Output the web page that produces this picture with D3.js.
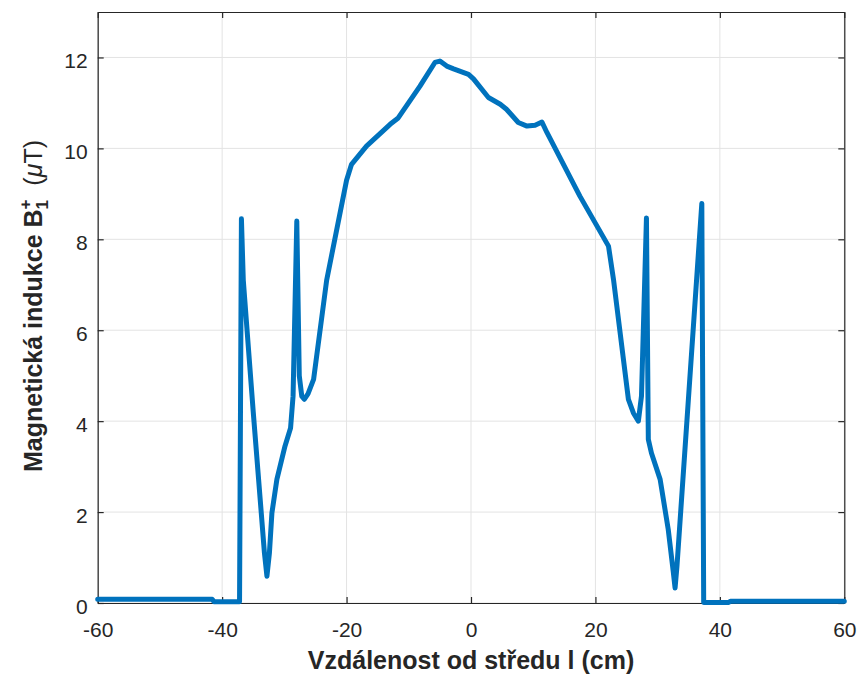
<!DOCTYPE html>
<html>
<head>
<meta charset="utf-8">
<script src="https://cdn.jsdelivr.net/npm/d3@7"></script>
<style>
  body { margin: 0; background: #fff; }
  svg { display: block; font-family: "Liberation Sans", Arial, Helvetica, sans-serif; }
</style>
</head>
<body>
<div id="chart"></div>
<script>
// Data
let distance = [-60, -41.6, -41.3, -37.2, -36.9, -36.6, -35.0, -33.2, -32.8, -32.4, -32.0, -31.2, -29.9, -29.0, -28.6,
    -28.0, -27.6, -27.2, -26.8, -26.2, -25.3, -23.2, -20.0, -19.2, -16.8, -13.0, -11.7, -8.2, -5.8, -5.0, -3.9,
    -2.8, -0.4, 0.4, 2.8, 4.7, 5.7, 7.6, 9.0, 10.3, 11.4, 12.2, 17.5, 22.1, 22.9, 25.3, 26.1,
    26.9, 27.4, 28.2, 28.5, 29.0, 30.4, 31.7, 32.5, 32.8, 33.1, 37.1, 37.4, 41.4, 41.7, 60]
let induction = [0.08, 0.08, 0.03, 0.03, 8.45, 7.1, 4.2, 1.1, 0.59, 1.1, 1.98, 2.72, 3.45, 3.85, 4.55,
    8.4, 5.0, 4.55, 4.48, 4.6, 4.92, 7.1, 9.3, 9.65, 10.05, 10.53, 10.67, 11.37, 11.89, 11.92, 11.81,
    11.75, 11.63, 11.53, 11.12, 10.97, 10.86, 10.57, 10.49, 10.51, 10.58, 10.35, 8.95, 7.85, 7.12, 4.48, 4.18,
    4.0, 4.55, 8.47, 3.6, 3.3, 2.72, 1.62, 0.7, 0.33, 0.8, 8.79, 0.01, 0.01, 0.04, 0.04]
let xTicks = [-60, -40, -20, 0, 20, 40, 60]
let yTicks = [0, 2, 4, 6, 8, 10, 12]

let rows = distance.map((d, i) => ({ x: d, y: induction[i] }))

// Set bounds
let svgWidth = 861, svgHeight = 675
let plotLeft = 97.7, plotRight = 844.3, plotTop = 12, plotBottom = 603
let axisColor = '#262626'

let svg = d3.select('#chart')
    .append('svg')
    .attr('width', svgWidth)
    .attr('height', svgHeight)

let x = d3.scaleLinear().domain([-60, 60]).range([plotLeft, plotRight])
let y = d3.scaleLinear().domain([0, 13]).range([plotBottom, plotTop])

// Grid
let grid = svg.append('g').attr('stroke', '#e3e3e3').attr('stroke-width', 1)
grid.selectAll('.gx').data(xTicks).enter().append('line')
    .attr('x1', d => x(d)).attr('x2', d => x(d))
    .attr('y1', plotTop).attr('y2', plotBottom)
grid.selectAll('.gy').data(yTicks).enter().append('line')
    .attr('x1', plotLeft).attr('x2', plotRight)
    .attr('y1', d => y(d)).attr('y2', d => y(d))

// Axes (ticks inside, box on), plain hyphen for negatives like the original
let fmt = d => String(d)
let tickLen = 6
let xAxis = svg.append('g')
    .attr('transform', 'translate(0,' + plotBottom + ')')
    .call(d3.axisBottom(x).tickValues(xTicks).tickFormat(fmt).tickSizeInner(-tickLen).tickSizeOuter(0).tickPadding(19))
let xAxisTop = svg.append('g')
    .attr('transform', 'translate(0,' + plotTop + ')')
    .call(d3.axisTop(x).tickValues(xTicks).tickSizeInner(-tickLen).tickSizeOuter(0).tickFormat(''))
let yAxis = svg.append('g')
    .attr('transform', 'translate(' + plotLeft + ',0)')
    .call(d3.axisLeft(y).tickValues(yTicks).tickFormat(fmt).tickSizeInner(-tickLen).tickSizeOuter(0).tickPadding(10))
let yAxisRight = svg.append('g')
    .attr('transform', 'translate(' + plotRight + ',0)')
    .call(d3.axisRight(y).tickValues(yTicks).tickSizeInner(-tickLen).tickSizeOuter(0).tickFormat(''))

;[xAxis, xAxisTop, yAxis, yAxisRight].forEach(a => {
    a.select('.domain').attr('stroke', axisColor).attr('stroke-width', 1.2)
    a.selectAll('.tick line').attr('stroke', axisColor).attr('stroke-width', 1.2)
    a.selectAll('.tick text')
        .attr('fill', axisColor)
        .style('font-size', '21px')
        .style('font-family', '"Liberation Sans", Arial, sans-serif')
})
yAxis.selectAll('.tick text').attr('dy', '0.5em')
xAxis.selectAll('.tick text').attr('dy', '0.71em')

// Line generator
let line = d3.line()
    .x(d => x(d.x))
    .y(d => y(d.y))

svg.append('path')
    .datum(rows)
    .attr('fill', 'none')
    .attr('stroke', '#0072BD')
    .attr('stroke-width', 5)
    .attr('stroke-linejoin', 'round')
    .attr('stroke-linecap', 'round')
    .attr('d', line)

// X label
svg.append('text')
    .attr('x', (plotLeft + plotRight) / 2)
    .attr('y', 669)
    .attr('text-anchor', 'middle')
    .attr('fill', axisColor)
    .style('font-size', '25px')
    .style('font-weight', 'bold')
    .text('Vzdálenost od středu l (cm)')

// Y label
let yl = svg.append('text')
    .attr('transform', 'translate(42,306) rotate(-90)')
    .attr('text-anchor', 'middle')
    .attr('fill', axisColor)
    .style('font-size', '25px')
    .style('font-weight', 'bold')
yl.append('tspan').text('Magnetická indukce B')
yl.append('tspan').attr('dy', 6).style('font-size', '17px').text('1')
yl.append('tspan').attr('dx', -9.5).attr('dy', -17).style('font-size', '17px').text('+')
yl.append('tspan').attr('dy', 11).style('font-weight', 'normal').text('\u00a0\u00a0(')
yl.append('tspan').style('font-weight', 'normal').style('font-style', 'italic').text('μ')
yl.append('tspan').style('font-weight', 'normal').text('T)')
</script>
</body>
</html>
